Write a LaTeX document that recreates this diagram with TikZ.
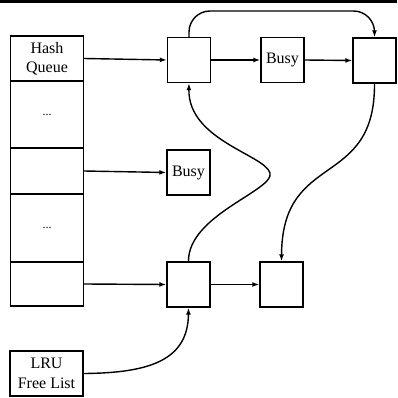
\documentclass[tikz,border=0pt]{standalone}
\usepackage{fontspec}
\setmainfont{Liberation Serif}
\usepackage{tikz}
\usetikzlibrary{arrows.meta,calc}
\tikzset{
  cellbox/.style={draw, line width=1.4pt, minimum width=73pt, inner sep=0pt, align=center, font=\fontsize{16}{19.5}\selectfont},
  bufbox/.style={draw, line width=1.4pt, minimum width=43pt, minimum height=45pt, inner sep=0pt, font=\fontsize{16}{19.5}\selectfont},
  dotstext/.style={font=\fontsize{12}{14}\selectfont},
  cline/.style={-{Latex[length=7pt,width=5pt]}, line width=1.4pt},
}

\begin{document}
\begin{tikzpicture}[x=1pt, y=-1pt]
  \useasboundingbox (0,0) rectangle (397,398);
  \draw[line width=3pt] (0,1.5) -- (397,1.5);

  % hash queue column
  \node[cellbox, minimum height=45pt] (hq0) at (47,58.5) {Hash\\Queue};
  \node[cellbox, minimum height=67pt, dotstext] (hq1) at (47,114.5) {...};
  \node[cellbox, minimum height=46pt] (hq2) at (47,171) {};
  \node[cellbox, minimum height=68pt, dotstext] (hq3) at (47,228) {...};
  \node[cellbox, minimum height=44pt] (hq4) at (47,284) {};

  \node[cellbox, minimum height=45pt] (lru) at (46.5,373.5) {LRU\\Free List};

  % buffers
  \node[bufbox] (b1) at (189,60) {};
  \node[bufbox] (busya) at (282.5,60) {Busy};
  \node[bufbox] (b3) at (374.5,60.5) {};
  \node[bufbox] (busyb) at (188.5,172.5) {Busy};
  \node[bufbox] (b4) at (188.5,284.5) {};
  \node[bufbox] (b5) at (281.5,284.5) {};

  \foreach \a/\b in {hq0/b1, hq2/busyb, hq4/b4, b1/busya, busya/b3, b4/b5} {
    \draw[cline] (\a.east) -- (\b.west);
  }

  \coordinate (top) at (0,11);
  \draw[cline, rounded corners=21pt] (b1.north) |- (b3.north |- top) -- (b3.north);
  \draw[cline] (b4.north) .. controls (188,215) and (275,190) .. (270,173)
    .. controls (265,155) and (188,140) .. (b1.south);
  \draw[cline] (b3.south) .. controls (375,190) and (282,150) .. (b5.north);
  \draw[cline] (lru.east) .. controls (150,373) and (188,360) .. (b4.south);
\end{tikzpicture}
\end{document}
